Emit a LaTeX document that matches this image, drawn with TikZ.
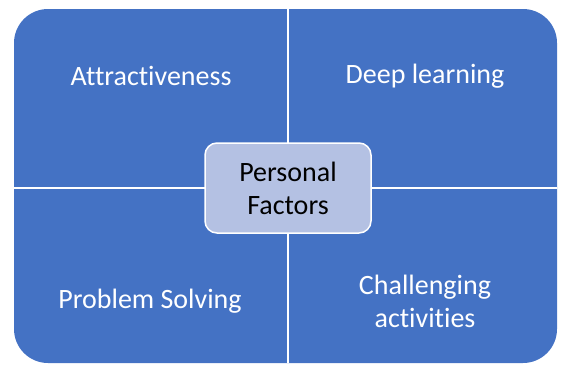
\documentclass[tikz,border=0pt]{standalone}
\usepackage{fontspec}
\setmainfont[RawFeature=-liga]{Carlito}
\definecolor{quadblue}{HTML}{4472C4}
\definecolor{centerfill}{HTML}{B4C1E3}
\begin{document}
\begin{tikzpicture}[x=1pt,y=-1pt,
  quadtext/.style={text=white,font=\fontsize{28}{33}\selectfont,align=center},
  centertext/.style={text=black,font=\fontsize{28}{33}\selectfont,align=center}]
\useasboundingbox (0,0) rectangle (561,365);
\fill[quadblue,rounded corners=34pt] (14,9) rectangle (557,363);
\coordinate (vt) at (288,9);
\coordinate (vb) at (288,363);
\coordinate (hl) at (14,188);
\coordinate (hr) at (557,188);
\draw[white,line width=2pt] (vt) -- (vb);
\draw[white,line width=2pt] (hl) -- (hr);
\node[draw=white,line width=1.5pt,fill=centerfill,rounded corners=12pt,
  minimum width=166pt,minimum height=90pt,inner sep=0pt] (pf) at (288,188) {};
\node[centertext] (pft) at (288,188) {Personal\\Factors};
\node[quadtext] (att) at (151,76) {Attractiveness};
\node[quadtext] (deep) at (425,76) {Deep learning};
\node[quadtext] (prob) at (150,301) {Problem Solving};
\node[quadtext] (chal) at (425,301) {Challenging\\activities};
\end{tikzpicture}
\end{document}
